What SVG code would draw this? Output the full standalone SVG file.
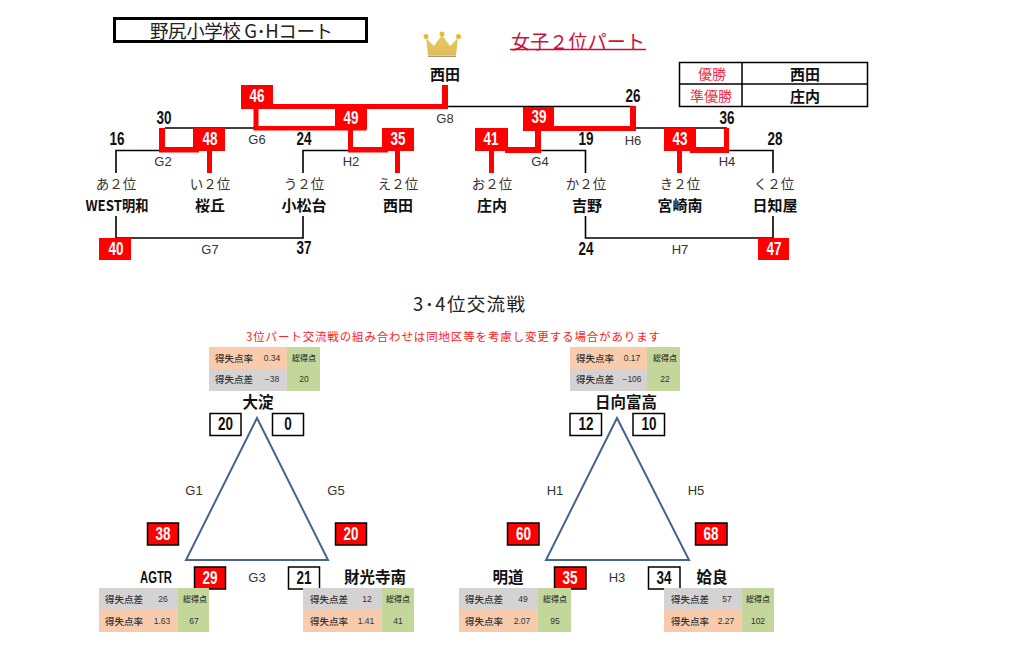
<svg xmlns="http://www.w3.org/2000/svg" width="1024" height="657" viewBox="0 0 1024 657">
<style>
text{font-family:"Noto Sans CJK JP","Liberation Sans",sans-serif;text-anchor:middle;dominant-baseline:central;fill:#222}
.num{font-family:"Liberation Sans",sans-serif;font-weight:700;font-size:18px;fill:#111}
.w{fill:#fff}
.g{font-family:"Liberation Sans",sans-serif;font-size:13px;fill:#333}
.seed{font-size:13.5px;fill:#333}
.name{font-size:15px;font-weight:700;fill:#111}
.big{font-size:15.5px;font-weight:700;fill:#111}
.lat{font-family:"Liberation Sans",sans-serif;font-weight:700;font-size:16px;fill:#111}
.red{fill:#ff0000}
.rb{fill:#ff0000;stroke:#000;stroke-width:1.5}
.wb{fill:#fff;stroke:#000;stroke-width:1.5}
.blk{fill:none;stroke:#000;stroke-width:1.6}
.tri{fill:none;stroke:#44648f;stroke-width:2}
.or{fill:#f8cbad}.gy{fill:#d4d2d2}.gn{fill:#c4d79b}
.s{font-size:9.5px;font-weight:500;fill:#333}
.v{font-family:"Liberation Sans",sans-serif;font-size:8.5px;fill:#333}
.t{font-size:8px;font-weight:500;fill:#333}
.hd{fill:#f0304a;font-size:14px}
</style>
<defs>
<linearGradient id="gold" x1="0" y1="0" x2="0" y2="1"><stop offset="0" stop-color="#eccb58"/><stop offset="1" stop-color="#dcbc5c"/></linearGradient>
</defs>
<rect width="1024" height="657" fill="#fff"/>
<g id="title">
<rect x="114.500" y="18.500" width="252" height="23" fill="#fff" stroke="#000" stroke-width="3"/>
<text x="241.500" y="29.500" font-size="18.500" textLength="183" lengthAdjust="spacing">野尻小学校 G･Hコート</text>
</g>
<g id="crown">
<path d="M426 38 L434 46 L442 35 L450 46 L458 38 L456 55 L428 55 Z" fill="url(#gold)"/>
<circle cx="426" cy="36.500" r="2.500" fill="#e8b932"/><circle cx="442" cy="34" r="2.500" fill="#e8b932"/><circle cx="458.500" cy="36.500" r="2.500" fill="#e8b932"/>
<rect x="428" y="55.500" width="28" height="1.500" fill="#a89a7a"/>
</g>
<g id="part-title">
<text x="578" y="40" font-size="19" style="fill:#d0103a" textLength="134" lengthAdjust="spacing">女子２位パート</text>
<line x1="510" y1="49.500" x2="646" y2="49.500" stroke="#c8102e" stroke-width="1.500"/>
</g>
<g id="result-table">
<rect x="679.500" y="62.500" width="188" height="44" fill="#fff" stroke="#000" stroke-width="1.500"/>
<line x1="742" y1="62.500" x2="742" y2="106.500" stroke="#000" stroke-width="1.500"/>
<line x1="679.500" y1="84" x2="867.500" y2="84" stroke="#000" stroke-width="1.500"/>
<text class="hd" x="712" y="73">優勝</text><text class="hd" x="711" y="95">準優勝</text>
<text class="name" x="805" y="73">西田</text><text class="name" x="805" y="95">庄内</text>
</g>
<g id="connectors">
<g class="black-lines">
<path class="blk" d="M445 106.500H633M165 128H256M116 173V150.500H160M303 173V150.500H350M540 150.500H585.500V173M633 128H727M727 150.500H773V173"/>
<path class="blk" d="M116 216V238H303V216M585.500 216V238H773V216"/>
</g>
<g class="red-lines">
<rect class="red" x="442" y="85" width="6" height="24"/>
<rect class="red" x="253.500" y="104" width="5" height="26"/>
<rect class="red" x="241" y="104" width="204" height="5"/>
<rect class="red" x="253.500" y="126" width="113" height="4.500"/>
<rect class="red" x="348" y="129" width="5" height="23"/>
<rect class="red" x="348" y="147" width="40" height="5.500"/>
<rect class="red" x="395" y="150" width="5" height="23"/>
<rect class="red" x="159" y="128" width="6" height="24"/>
<rect class="red" x="159" y="147" width="40" height="5.500"/>
<rect class="red" x="207" y="150" width="5" height="23"/>
<rect class="red" x="630" y="106" width="6" height="25"/>
<rect class="red" x="523" y="126" width="113" height="5"/>
<rect class="red" x="535" y="129" width="6" height="23"/>
<rect class="red" x="505" y="147" width="36" height="6"/>
<rect class="red" x="489" y="150" width="5" height="23"/>
<rect class="red" x="724" y="128" width="5" height="25"/>
<rect class="red" x="690" y="147" width="39" height="6"/>
<rect class="red" x="677" y="150" width="5" height="23"/>
</g>
<polygon class="tri" points="257,418 186,560 328,560"/>
<polygon class="tri" points="617,418 546,560 689,560"/>
</g>
<g id="champion"><text class="name" x="445" y="73">西田</text></g>
<g id="score-red">
<rect class="red" x="241" y="85" width="32" height="22"/><text class="num w" x="257" y="95.500" textLength="15" lengthAdjust="spacingAndGlyphs" style="fill:#fff">46</text>
<rect class="red" x="335" y="108" width="32" height="21"/><text class="num w" x="351" y="118" textLength="15" lengthAdjust="spacingAndGlyphs" style="fill:#fff">49</text>
<rect class="red" x="382" y="128" width="32" height="23"/><text class="num w" x="398" y="139" textLength="15" lengthAdjust="spacingAndGlyphs" style="fill:#fff">35</text>
<rect class="red" x="193" y="128" width="32" height="23"/><text class="num w" x="210" y="139" textLength="15" lengthAdjust="spacingAndGlyphs" style="fill:#fff">48</text>
<rect class="red" x="99" y="238" width="32" height="22"/><text class="num w" x="116" y="249" textLength="15" lengthAdjust="spacingAndGlyphs" style="fill:#fff">40</text>
<rect class="red" x="523" y="107" width="31" height="22"/><text class="num w" x="539" y="117" textLength="15" lengthAdjust="spacingAndGlyphs" style="fill:#fff">39</text>
<rect class="red" x="475" y="128" width="33" height="23"/><text class="num w" x="491" y="139" textLength="15" lengthAdjust="spacingAndGlyphs" style="fill:#fff">41</text>
<rect class="red" x="664" y="128" width="32" height="23"/><text class="num w" x="680" y="139" textLength="15" lengthAdjust="spacingAndGlyphs" style="fill:#fff">43</text>
<rect class="red" x="758" y="238" width="31" height="22"/><text class="num w" x="774" y="249" textLength="15" lengthAdjust="spacingAndGlyphs" style="fill:#fff">47</text>
</g>
<g id="score-plain">
<text class="num" x="164" y="118" textLength="15" lengthAdjust="spacingAndGlyphs">30</text>
<text class="num" x="117" y="139" textLength="15" lengthAdjust="spacingAndGlyphs">16</text>
<text class="num" x="304" y="139" textLength="15" lengthAdjust="spacingAndGlyphs">24</text>
<text class="num" x="633" y="96" textLength="15" lengthAdjust="spacingAndGlyphs">26</text>
<text class="num" x="727" y="118" textLength="15" lengthAdjust="spacingAndGlyphs">36</text>
<text class="num" x="586" y="139" textLength="15" lengthAdjust="spacingAndGlyphs">19</text>
<text class="num" x="775" y="139" textLength="15" lengthAdjust="spacingAndGlyphs">28</text>
<text class="num" x="304" y="248" textLength="15" lengthAdjust="spacingAndGlyphs">37</text>
<text class="num" x="586" y="249" textLength="15" lengthAdjust="spacingAndGlyphs">24</text>
</g>
<g id="game-labels">
<text class="g" x="445" y="118">G8</text><text class="g" x="257" y="139">G6</text><text class="g" x="163" y="161">G2</text><text class="g" x="351" y="161">H2</text>
<text class="g" x="540" y="161">G4</text><text class="g" x="633" y="140">H6</text><text class="g" x="727" y="161">H4</text>
<text class="g" x="210" y="249">G7</text><text class="g" x="680" y="249">H7</text>
<text class="g" x="194" y="490">G1</text><text class="g" x="336" y="490">G5</text><text class="g" x="257" y="577">G3</text>
<text class="g" x="555" y="490">H1</text><text class="g" x="696" y="490">H5</text><text class="g" x="617" y="577">H3</text>
</g>
<g id="team-a"><text class="seed" x="116" y="182.500">あ２位</text><text class="name" x="117" y="204" textLength="63" lengthAdjust="spacingAndGlyphs">WEST明和</text></g>
<g id="team-i"><text class="seed" x="210" y="182.500">い２位</text><text class="name" x="210" y="204">桜丘</text></g>
<g id="team-u"><text class="seed" x="304" y="182.500">う２位</text><text class="name" x="304" y="204">小松台</text></g>
<g id="team-e"><text class="seed" x="398" y="182.500">え２位</text><text class="name" x="398" y="204">西田</text></g>
<g id="team-o"><text class="seed" x="492" y="182.500">お２位</text><text class="name" x="492" y="204">庄内</text></g>
<g id="team-ka"><text class="seed" x="586" y="182.500">か２位</text><text class="name" x="587" y="204">吉野</text></g>
<g id="team-ki"><text class="seed" x="680" y="182.500">き２位</text><text class="name" x="680" y="204">宮崎南</text></g>
<g id="team-ku"><text class="seed" x="774" y="182.500">く２位</text><text class="name" x="775" y="204">日知屋</text></g>
<g id="section-title">
<text x="469" y="302.500" font-size="18.500" textLength="112" lengthAdjust="spacing">3･4位交流戦</text>
<text x="453" y="335.500" font-size="11.500" style="fill:#ff2020" textLength="414" lengthAdjust="spacing">3位パート交流戦の組み合わせは同地区等を考慮し変更する場合があります</text>
</g>
<g id="team-oyodo">
<text class="big" x="258" y="401">大淀</text>
<rect class="or" x="209" y="347" width="78" height="22"/><rect class="gy" x="209" y="369" width="78" height="22"/><rect class="gn" x="287" y="347" width="33" height="44"/>
<text class="s" x="234" y="357.500">得失点率</text><text class="v" x="272" y="358">0.34</text><text class="s" x="234" y="378.500">得失点差</text><text class="v" x="272" y="379">−38</text><text class="t" x="304" y="357.500">総得点</text><text class="v" x="304" y="379">20</text>
<rect class="wb" x="210" y="413.500" width="31" height="22"/><text class="num" x="225.500" y="424" textLength="15" lengthAdjust="spacingAndGlyphs">20</text>
<rect class="wb" x="272.500" y="413.500" width="31" height="22"/><text class="num" x="288" y="424" textLength="7.500" lengthAdjust="spacingAndGlyphs">0</text>
</g>
<g id="team-agtr">
<text class="lat" x="156" y="577" textLength="32" lengthAdjust="spacingAndGlyphs">AGTR</text>
<rect class="rb" x="147.500" y="523" width="31" height="22"/><text class="num" style="fill:#fff" x="163" y="534" textLength="15" lengthAdjust="spacingAndGlyphs">38</text>
<rect class="rb" x="194.500" y="567" width="31" height="22"/><text class="num" style="fill:#fff" x="210" y="578" textLength="15" lengthAdjust="spacingAndGlyphs">29</text>
<rect class="gy" x="99" y="588" width="79" height="21"/><rect class="or" x="99" y="609" width="79" height="23"/><rect class="gn" x="178" y="588" width="31" height="44"/>
<text class="s" x="124" y="598.500">得失点差</text><text class="v" x="163" y="599">26</text><text class="s" x="124" y="620.500">得失点率</text><text class="v" x="162" y="621">1.63</text><text class="t" x="195" y="598.500">総得点</text><text class="v" x="194" y="621">67</text>
</g>
<g id="team-zaikoji">
<text class="big" x="375" y="576">財光寺南</text>
<rect class="rb" x="335.500" y="523" width="31" height="22"/><text class="num" style="fill:#fff" x="351" y="534" textLength="15" lengthAdjust="spacingAndGlyphs">20</text>
<rect class="wb" x="288.500" y="567" width="31" height="22"/><text class="num" x="304" y="578" textLength="15" lengthAdjust="spacingAndGlyphs">21</text>
<rect class="gy" x="303" y="588" width="79" height="21"/><rect class="or" x="303" y="609" width="79" height="23"/><rect class="gn" x="382" y="588" width="32" height="44"/>
<text class="s" x="329" y="598.500">得失点差</text><text class="v" x="367" y="599">12</text><text class="s" x="329" y="620.500">得失点率</text><text class="v" x="366" y="621">1.41</text><text class="t" x="398" y="598.500">総得点</text><text class="v" x="398" y="621">41</text>
</g>
<g id="team-hyuga">
<text class="big" x="626" y="401">日向富高</text>
<rect class="or" x="570" y="347" width="77" height="22"/><rect class="gy" x="570" y="369" width="77" height="22"/><rect class="gn" x="647" y="347" width="33" height="44"/>
<text class="s" x="595" y="357.500">得失点率</text><text class="v" x="632" y="358">0.17</text><text class="s" x="595" y="378.500">得失点差</text><text class="v" x="632" y="379">−106</text><text class="t" x="665" y="357.500">総得点</text><text class="v" x="665" y="379">22</text>
<rect class="wb" x="570" y="413.500" width="31.500" height="22"/><text class="num" x="586" y="424" textLength="15" lengthAdjust="spacingAndGlyphs">12</text>
<rect class="wb" x="633" y="413.500" width="31.500" height="22"/><text class="num" x="649" y="424" textLength="15" lengthAdjust="spacingAndGlyphs">10</text>
</g>
<g id="team-meido">
<text class="big" x="508" y="576">明道</text>
<rect class="rb" x="507.500" y="523" width="31.500" height="22"/><text class="num" style="fill:#fff" x="523.500" y="534" textLength="15" lengthAdjust="spacingAndGlyphs">60</text>
<rect class="rb" x="554.500" y="567" width="31.500" height="22"/><text class="num" style="fill:#fff" x="570" y="578" textLength="15" lengthAdjust="spacingAndGlyphs">35</text>
<rect class="gy" x="459" y="588" width="79" height="21"/><rect class="or" x="459" y="609" width="79" height="23"/><rect class="gn" x="538" y="588" width="33" height="44"/>
<text class="s" x="484" y="598.500">得失点差</text><text class="v" x="523" y="599">49</text><text class="s" x="484" y="620.500">得失点率</text><text class="v" x="522" y="621">2.07</text><text class="t" x="555" y="598.500">総得点</text><text class="v" x="555" y="621">95</text>
</g>
<g id="team-aira">
<text class="big" x="712" y="576">姶良</text>
<rect class="rb" x="695.500" y="523" width="31.500" height="22"/><text class="num" style="fill:#fff" x="711" y="534" textLength="15" lengthAdjust="spacingAndGlyphs">68</text>
<rect class="wb" x="648.500" y="567" width="31.500" height="22"/><text class="num" x="664" y="578" textLength="15" lengthAdjust="spacingAndGlyphs">34</text>
<rect class="gy" x="664" y="588" width="78" height="21"/><rect class="or" x="664" y="609" width="78" height="23"/><rect class="gn" x="742" y="588" width="32" height="44"/>
<text class="s" x="690" y="598.500">得失点差</text><text class="v" x="727" y="599">57</text><text class="s" x="690" y="620.500">得失点率</text><text class="v" x="726" y="621">2.27</text><text class="t" x="758" y="598.500">総得点</text><text class="v" x="758" y="621">102</text>
</g>
</svg>
